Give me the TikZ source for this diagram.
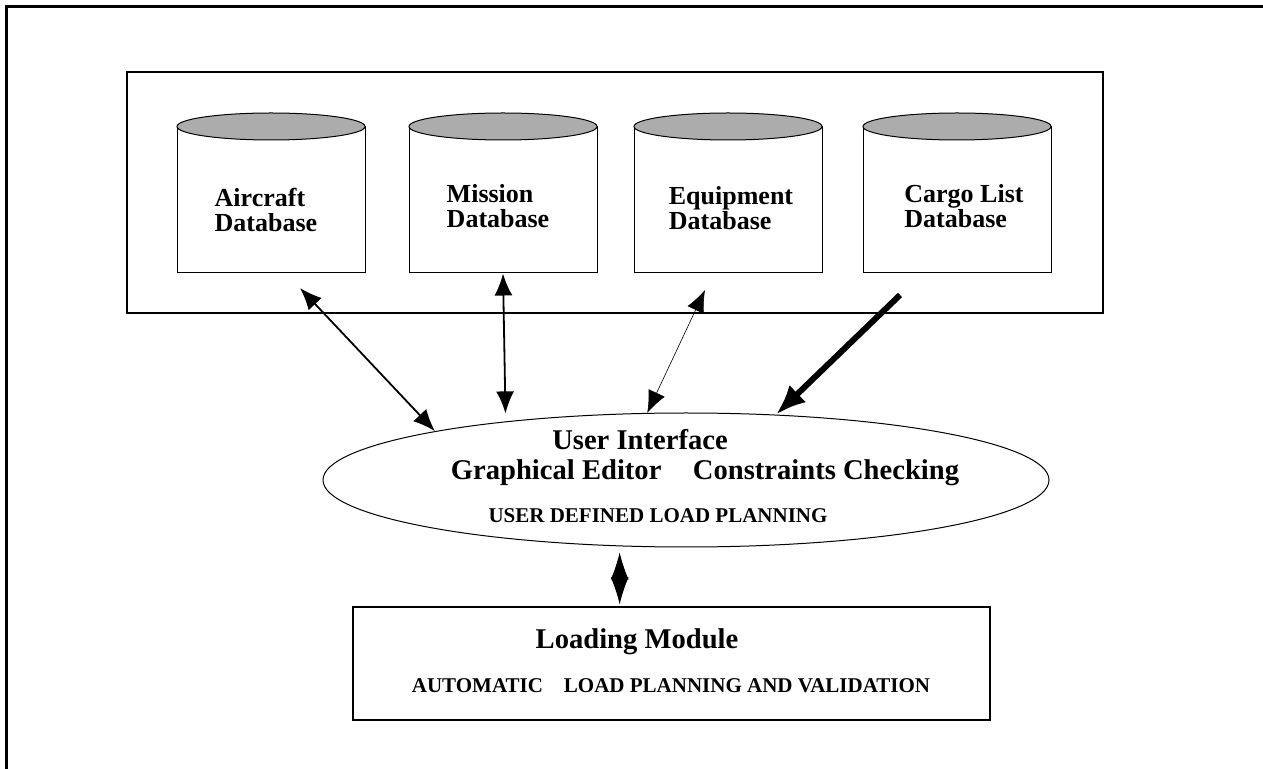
\documentclass[tikz,border=0pt]{standalone}
\usepackage{fontspec}
\setmainfont{Liberation Serif}
\usetikzlibrary{shapes.geometric,arrows.meta}

\begin{document}
\begin{tikzpicture}[x=0.5pt,y=-0.5pt,
		>={Latex[length=11pt,width=9pt]},
		frame/.style={line width=1.5pt},
		dbbody/.style={draw,line width=0.5pt,minimum width=94pt,minimum height=73pt,inner sep=0pt},
		dbtop/.style={ellipse,draw,line width=0.5pt,fill=gray!65,minimum width=94pt,minimum height=13.5pt,inner sep=0pt},
		dbtext/.style={align=left,inner sep=0pt,font=\fontsize{13}{12.5}\selectfont\bfseries},
		bigfont/.style={font=\fontsize{14.3}{16}\selectfont\bfseries},
		smallfont/.style={font=\fontsize{10.5}{12}\selectfont\bfseries}]
				\useasboundingbox (0,0) rectangle (1263,769);
				\draw[frame] (1263,7) -- (6,7) -- (6,769);
				
				\node[draw,line width=0.6pt,minimum width=488pt,minimum height=120.5pt] at (615,192.5) (dbbox) {};
				
				\node[dbbody] at (271,200) (air) {};
				\node[dbbody] at (503,200) (mis) {};
				\node[dbbody] at (728,200) (eqp) {};
				\node[dbbody] at (957,200) (cargo) {};
				\node[dbtop] at (air.north) (airtop) {};
				\node[dbtop] at (mis.north) (mistop) {};
				\node[dbtop] at (eqp.north) (eqptop) {};
				\node[dbtop] at (cargo.north) (cargotop) {};
				\node[dbtext] at (266,210) (airtxt) {Aircraft\\Database};
				\node[dbtext] at (498,206) (mistxt) {Mission\\Database};
				\node[dbtext] at (731,208) (eqptxt) {Equipment\\Database};
				\node[dbtext] at (964,206) (cargotxt) {Cargo List\\Database};
				
				\node[ellipse,draw,line width=0.5pt,minimum width=363pt,minimum height=67pt,inner sep=0pt] at (686,480) (ui) {};
				\node[bigfont,anchor=base] at (640,450) (uititle) {User Interface};
				\node[bigfont,anchor=base] at (705,480) (uitools) {Graphical Editor\hspace{1.1em}Constraints Checking};
				\node[smallfont,anchor=base] at (658,523) (uiplan) {USER DEFINED LOAD PLANNING};
				
				\node[draw,line width=0.6pt,minimum width=318.5pt,minimum height=56.5pt] at (671.5,663.5) (load) {};
				\node[bigfont,anchor=base] at (637,648) (loadtitle) {Loading Module};
				\node[smallfont,anchor=base] at (671,692) (loadplan) {AUTOMATIC\hspace{1em}LOAD PLANNING AND VALIDATION};
				
				\coordinate (airtip) at (300,288);
				\coordinate (eqptip) at (705,290);
				\coordinate (cargotail) at (900,295);
				
				\draw[<->, line width=0.9pt] (airtip) -- (ui.169);
				\draw[<->, line width=0.9pt, shorten >=4pt] (mis.south) -- (ui.162.5);
				\draw[<->, line width=0.3pt] (eqptip) -- (ui.120);
				\draw[-{Latex[length=15pt,width=12pt]}, line width=3pt] (cargotail) -- (ui.36.8);
				\draw[{Latex[length=13.5pt,width=9pt]}-{Latex[length=13.5pt,width=9pt]}, line width=0.5pt, shorten <=3pt, shorten >=1pt] (ui.225) -- (ui.225 |- load.north);
			\end{tikzpicture}
\end{document}
